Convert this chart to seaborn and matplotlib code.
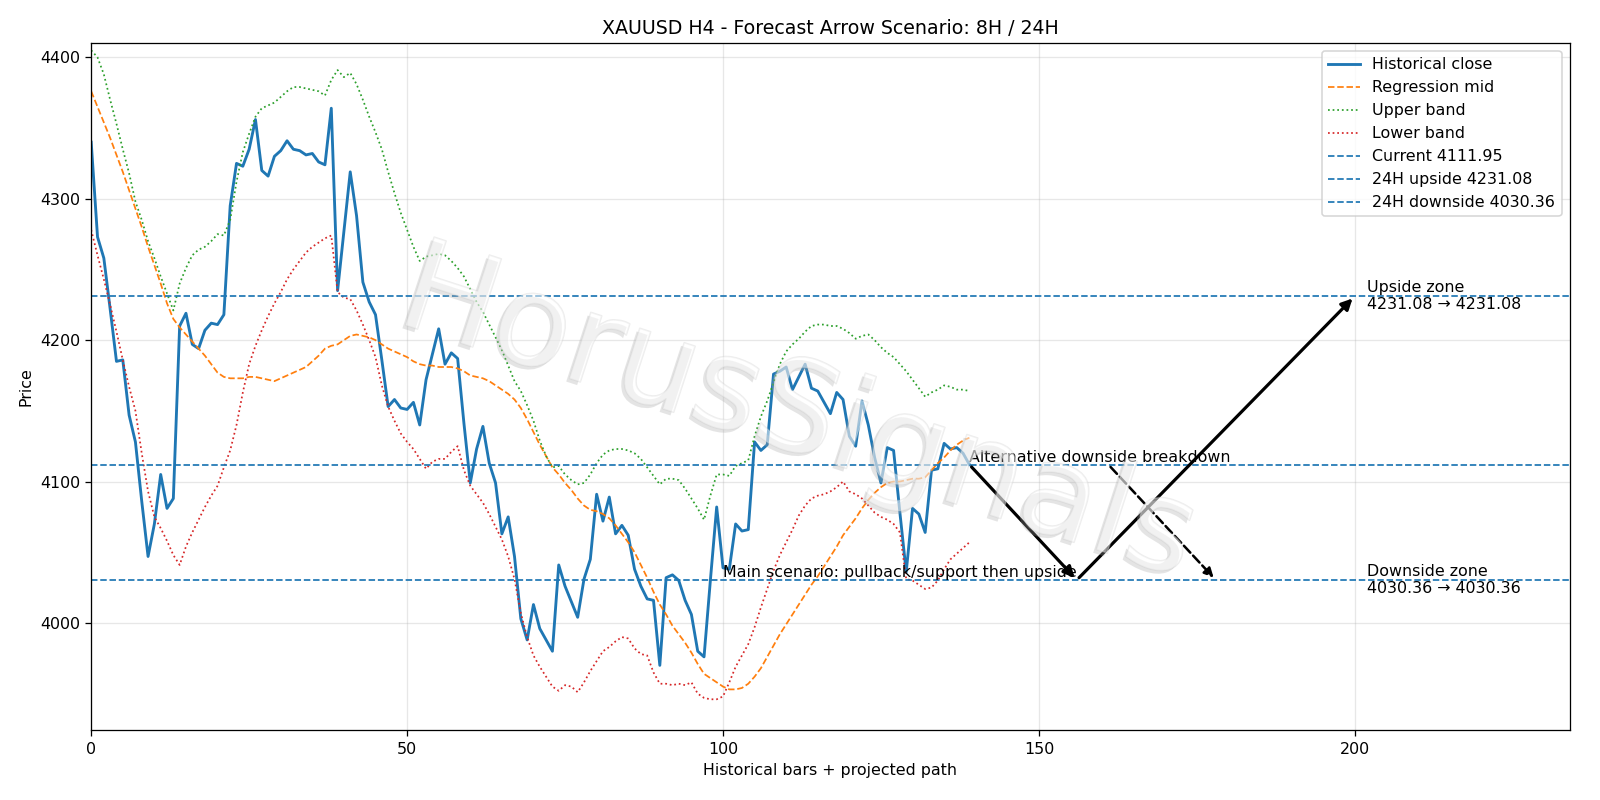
"""
XAUUSD H4 forecast arrow scenario chart (8H / 24H).
Historical close + regression channel, with projected scenario arrows.
"""

import numpy as np
import pandas as pd
import matplotlib
matplotlib.use("Agg")
import matplotlib.pyplot as plt
import matplotlib.patheffects as pe
import seaborn as sns

# ---- data ----
close = [4340, 4273, 4258, 4222, 4185, 4186, 4147, 4128, 4086, 4047,
         4070, 4105, 4081, 4088, 4210, 4219, 4197, 4194, 4207, 4212,
         4211, 4218, 4295, 4325, 4323, 4335, 4356, 4320, 4316, 4330,
         4334, 4341, 4335, 4334, 4331, 4332, 4326, 4324, 4364, 4235,
         4277, 4319, 4288, 4241, 4227, 4218, 4186, 4153, 4158, 4152,
         4151, 4156, 4140, 4172, 4190, 4208, 4183, 4191, 4187, 4141,
         4099, 4123, 4139, 4113, 4099, 4063, 4075, 4047, 4003, 3988,
         4013, 3996, 3988, 3980, 4041, 4026, 4015, 4004, 4031, 4045,
         4091, 4072, 4089, 4063, 4069, 4062, 4038, 4026, 4017, 4016,
         3970, 4032, 4034, 4030, 4016, 4006, 3980, 3976, 4030, 4082,
         4039, 4038, 4070, 4065, 4066, 4128, 4122, 4126, 4176, 4178,
         4181, 4165, 4174, 4183, 4166, 4164, 4156, 4148, 4163, 4158,
         4132, 4125, 4157, 4140, 4117, 4099, 4124, 4122, 4078, 4036,
         4081, 4077, 4064, 4108, 4109, 4127, 4123, 4124, 4120, 4111.95]

reg_mid = [4376, 4365, 4354, 4343, 4331, 4319, 4306, 4293, 4280, 4266,
           4253, 4240, 4226, 4215, 4209, 4204, 4199, 4194, 4189, 4183,
           4177, 4174, 4173, 4173, 4173, 4174, 4174, 4173, 4172, 4171,
           4173, 4175, 4177, 4179, 4181, 4185, 4189, 4194, 4196, 4197,
           4200, 4203, 4204, 4203, 4202, 4200, 4197, 4194, 4192, 4190,
           4188, 4185, 4183, 4182, 4182, 4181, 4181, 4181, 4180, 4178,
           4175, 4174, 4173, 4171, 4168, 4165, 4162, 4158, 4152, 4144,
           4135, 4126, 4118, 4110, 4105, 4099, 4094, 4088, 4083, 4080,
           4079, 4077, 4074, 4069, 4063, 4057, 4050, 4041, 4032, 4022,
           4013, 4006, 3998, 3992, 3986, 3979, 3971, 3964, 3961, 3958,
           3955, 3953, 3953, 3954, 3957, 3962, 3968, 3976, 3984, 3992,
           3999, 4006, 4013, 4020, 4027, 4033, 4040, 4047, 4054, 4062,
           4068, 4074, 4081, 4087, 4092, 4096, 4099, 4100, 4100, 4101,
           4102, 4102, 4103, 4108, 4113, 4117, 4122, 4126, 4129, 4131]

upper_band = [4405, 4400, 4388, 4370, 4353, 4335, 4318, 4298, 4285, 4270,
              4258, 4245, 4233, 4221, 4240, 4251, 4260, 4264, 4266, 4270,
              4275, 4274, 4285, 4312, 4333, 4346, 4358, 4364, 4366, 4368,
              4372, 4376, 4379, 4379, 4378, 4377, 4376, 4373, 4384, 4391,
              4386, 4389, 4381, 4370, 4358, 4347, 4335, 4319, 4304, 4290,
              4278, 4266, 4256, 4259, 4260, 4261, 4260, 4256, 4251, 4245,
              4236, 4227, 4220, 4211, 4202, 4193, 4182, 4171, 4164, 4154,
              4143, 4129, 4118, 4110, 4111, 4105, 4101, 4098, 4099, 4105,
              4113, 4119, 4122, 4123, 4123, 4122, 4120, 4116, 4110, 4104,
              4098, 4102, 4102, 4101, 4095, 4088, 4081, 4073, 4090, 4105,
              4105, 4104, 4111, 4113, 4115, 4132, 4146, 4157, 4170, 4183,
              4192, 4197, 4201, 4206, 4210, 4211, 4211, 4210, 4210, 4208,
              4205, 4201, 4203, 4204, 4200, 4195, 4191, 4188, 4183, 4178,
              4172, 4166, 4160, 4163, 4165, 4168, 4167, 4165, 4165, 4164]

lower_band = [4278, 4260, 4243, 4225, 4206, 4186, 4167, 4150, 4120, 4093,
              4075, 4067, 4058, 4048, 4041, 4054, 4064, 4073, 4082, 4090,
              4097, 4110, 4122, 4140, 4163, 4183, 4196, 4207, 4217, 4226,
              4234, 4243, 4250, 4256, 4262, 4266, 4269, 4272, 4274, 4234,
              4230, 4229, 4221, 4211, 4200, 4188, 4168, 4153, 4143, 4134,
              4128, 4123, 4116, 4109, 4114, 4116, 4116, 4121, 4125, 4108,
              4097, 4091, 4085, 4077, 4068, 4059, 4047, 4031, 4007, 3990,
              3977, 3969, 3962, 3955, 3952, 3956, 3955, 3951, 3958, 3966,
              3973, 3980, 3983, 3987, 3990, 3989, 3982, 3978, 3977, 3965,
              3957, 3957, 3956, 3957, 3956, 3958, 3950, 3947, 3946, 3946,
              3948, 3958, 3969, 3977, 3985, 3997, 4011, 4024, 4037, 4048,
              4057, 4066, 4076, 4083, 4088, 4090, 4091, 4093, 4096, 4100,
              4093, 4091, 4088, 4083, 4078, 4075, 4073, 4070, 4064, 4031,
              4030, 4027, 4024, 4025, 4030, 4038, 4045, 4049, 4053, 4057]

current_price = 4111.95
upside_24h = 4231.08
downside_24h = 4030.36

# projected path (bar index of each scenario point)
pivot_bar = 156
upside_bar = 200
alt_start_bar = 161
alt_end_bar = 178
zone_label_bar = 202


def main():
    bars = np.arange(len(close))
    df = pd.DataFrame({
        "bar": bars,
        "close": close,
        "mid": reg_mid,
        "upper": upper_band,
        "lower": lower_band,
    })

    fig, ax = plt.subplots(figsize=(14, 7), dpi=1600 / 14)

    sns.lineplot(data=df, x="bar", y="close", ax=ax, color="C0", lw=1.8,
                 label="Historical close")
    sns.lineplot(data=df, x="bar", y="mid", ax=ax, color="C1", lw=1.1,
                 linestyle="--", label="Regression mid")
    sns.lineplot(data=df, x="bar", y="upper", ax=ax, color="C2", lw=1.1,
                 linestyle=":", label="Upper band")
    sns.lineplot(data=df, x="bar", y="lower", ax=ax, color="C3", lw=1.1,
                 linestyle=":", label="Lower band")

    ax.axhline(current_price, color="C0", ls="--", lw=1.1,
               label=f"Current {current_price:.2f}")
    ax.axhline(upside_24h, color="C0", ls="--", lw=1.1,
               label=f"24H upside {upside_24h:.2f}")
    ax.axhline(downside_24h, color="C0", ls="--", lw=1.1,
               label=f"24H downside {downside_24h:.2f}")

    last_bar = bars[-1]
    arrow_kw = dict(arrowstyle="-|>", lw=2, color="black", mutation_scale=14)
    # main scenario: pullback to support, then upside
    ax.annotate("", xy=(pivot_bar, downside_24h), xytext=(last_bar, current_price),
                arrowprops=arrow_kw)
    ax.annotate("", xy=(upside_bar, upside_24h), xytext=(pivot_bar, downside_24h),
                arrowprops=arrow_kw)
    # alternative: breakdown
    ax.annotate("", xy=(alt_end_bar, downside_24h), xytext=(alt_start_bar, current_price),
                arrowprops=dict(arrowstyle="-|>", lw=1.6, color="black",
                                linestyle="--", mutation_scale=12))

    ax.text(pivot_bar, downside_24h, "Main scenario: pullback/support then upside",
            ha="right", va="bottom", fontsize=10)
    ax.text(last_bar, current_price, "Alternative downside breakdown",
            ha="left", va="bottom", fontsize=10)
    ax.text(zone_label_bar, upside_24h, f"Upside zone\n{upside_24h:.2f} → {upside_24h:.2f}",
            ha="left", va="center", fontsize=10)
    ax.text(zone_label_bar, downside_24h, f"Downside zone\n{downside_24h:.2f} → {downside_24h:.2f}",
            ha="left", va="center", fontsize=10)

    ax.set_xlim(0, 234)
    ax.set_ylim(3924, 4410)
    ax.set_xticks([0, 50, 100, 150, 200])
    ax.set_yticks([4000, 4100, 4200, 4300, 4400])
    ax.grid(True, alpha=0.3)
    ax.set_title("XAUUSD H4 - Forecast Arrow Scenario: 8H / 24H")
    ax.set_xlabel("Historical bars + projected path")
    ax.set_ylabel("Price")
    ax.legend(loc="upper right")

    # watermark
    fig.text(0.499, 0.48, "HorusSignals", fontsize=80, color="white", alpha=0.3,
             rotation=-18, ha="center", va="center", zorder=10,
             path_effects=[
                 pe.SimplePatchShadow(offset=(-2, -2), shadow_rgbFace="#a8a8a8", alpha=0.3),
                 pe.Stroke(linewidth=1.0, foreground="#c4c4c4"),
                 pe.Normal(),
             ])

    fig.subplots_adjust(left=0.057, right=0.981, bottom=0.087, top=0.946)
    fig.savefig("out.png", dpi=1600 / 14)


if __name__ == "__main__":
    main()
